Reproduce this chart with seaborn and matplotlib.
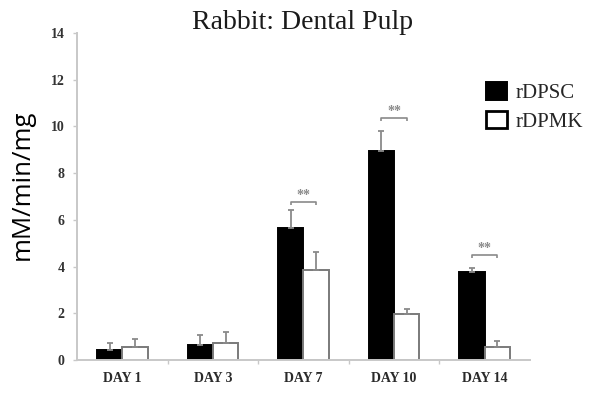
import matplotlib
matplotlib.use("Agg")
import matplotlib.pyplot as plt
import seaborn as sns
import pandas as pd
import numpy as np
from matplotlib.patches import Patch

# Data
days = ["DAY 1", "DAY 3", "DAY 7", "DAY 10", "DAY 14"]
groups = ["rDPSC", "rDPMK"]
rdpsc_mean = [0.43, 0.64, 5.64, 8.96, 3.75]
rdpsc_err = [0.28, 0.43, 0.80, 0.84, 0.20]
rdpmk_mean = [0.57, 0.71, 3.85, 1.96, 0.57]
rdpmk_err = [0.33, 0.50, 0.79, 0.21, 0.24]
sig_days = ["DAY 7", "DAY 10", "DAY 14"]
sig_level = [6.78, 10.36, 4.50]
sig_text = ["**", "**", "**"]

df = pd.DataFrame({
    "day": days * 2,
    "group": [groups[0]] * len(days) + [groups[1]] * len(days),
    "value": rdpsc_mean + rdpmk_mean,
    "err": rdpsc_err + rdpmk_err,
})

sns.set_style("white")
serif = ["Liberation Serif", "DejaVu Serif"]

fig = plt.figure(figsize=(5.94, 3.94), dpi=100)
ax = fig.add_axes([0.1296, 0.0863, 0.7626, 0.8299])

palette = {"rDPSC": "black", "rDPMK": "white"}
sns.barplot(data=df, x="day", y="value", hue="group", order=days,
            hue_order=groups, palette=palette, width=0.56, errorbar=None,
            saturation=1, legend=False, ax=ax)

# Bar outlines and upper error bars
edge = {"rDPSC": "black", "rDPMK": "#7a7a7a"}
for i, grp in enumerate(groups):
    for j, day in enumerate(days):
        p = ax.patches[i * len(days) + j]
        p.set_edgecolor(edge[grp])
        p.set_linewidth(1.4)
        cx = p.get_x() + p.get_width() / 2
        row = df[(df.day == day) & (df.group == grp)].iloc[0]
        ax.errorbar(cx, row.value, yerr=[[0], [row.err]], fmt="none",
                    ecolor="#8a8a8a", elinewidth=1.3, capsize=2.2,
                    capthick=1.3, zorder=1)

# Significance brackets
for day, lvl, txt in zip(sig_days, sig_level, sig_text):
    j = days.index(day)
    p0 = ax.patches[j]
    p1 = ax.patches[len(days) + j]
    x0 = p0.get_x() + p0.get_width() / 2
    x1 = p1.get_x() + p1.get_width() / 2
    ax.plot([x0, x0, x1, x1], [lvl - 0.13, lvl, lvl, lvl - 0.13],
            color="#8a8a8a", lw=1.2, solid_capstyle="butt")
    ax.text((x0 + x1) / 2, lvl + 0.0, txt, ha="center", va="bottom",
            color="#8a8a8a", fontsize=10, fontweight="bold", family=serif)

ax.set_xlim(-0.5, 4.5)
ax.set_ylim(0, 14)
ax.set_yticks(np.arange(0, 15, 2))
ax.set_xticks(np.arange(0.5, 4.5, 1), minor=True)

for s in ["top", "right"]:
    ax.spines[s].set_visible(False)
for s in ["left", "bottom"]:
    ax.spines[s].set_color("#c8c8c8")
    ax.spines[s].set_linewidth(1.4)

ax.tick_params(axis="y", which="major", length=3, width=1, color="#c8c8c8",
               direction="out", left=True, pad=6)
ax.tick_params(axis="x", which="major", length=0, pad=9)
ax.tick_params(axis="x", which="minor", length=3, width=1, color="#c8c8c8",
               direction="out", bottom=True)

for lbl in ax.get_yticklabels():
    lbl.set_fontfamily(serif)
    lbl.set_fontweight("bold")
    lbl.set_fontsize(10)
    lbl.set_color("#333333")
for lbl in ax.get_xticklabels():
    lbl.set_fontfamily(serif)
    lbl.set_fontweight("bold")
    lbl.set_fontsize(10)
    lbl.set_color("#2a2a2a")

ax.set_xlabel("")
ax.set_ylabel("mM/min/mg", fontsize=18.5, family=["Open Sans", "DejaVu Sans"],
              color="black")
ax.yaxis.set_label_coords(-0.093, 0.535)

fig.suptitle("Rabbit: Dental Pulp", x=0.51, y=0.975, fontsize=20,
             family=serif, color="#1a1a1a")

handles = [Patch(facecolor="black", edgecolor="black", lw=1.4),
           Patch(facecolor="white", edgecolor="black", lw=2)]
ax.legend(handles, groups, loc="upper left", bbox_to_anchor=(0.902, 0.85),
          frameon=False, prop={"family": serif, "size": 15},
          handlelength=1.05, handleheight=0.95, handletextpad=0.4,
          labelspacing=0.35, borderaxespad=0, borderpad=0)

fig.savefig("out.png", dpi=100)
